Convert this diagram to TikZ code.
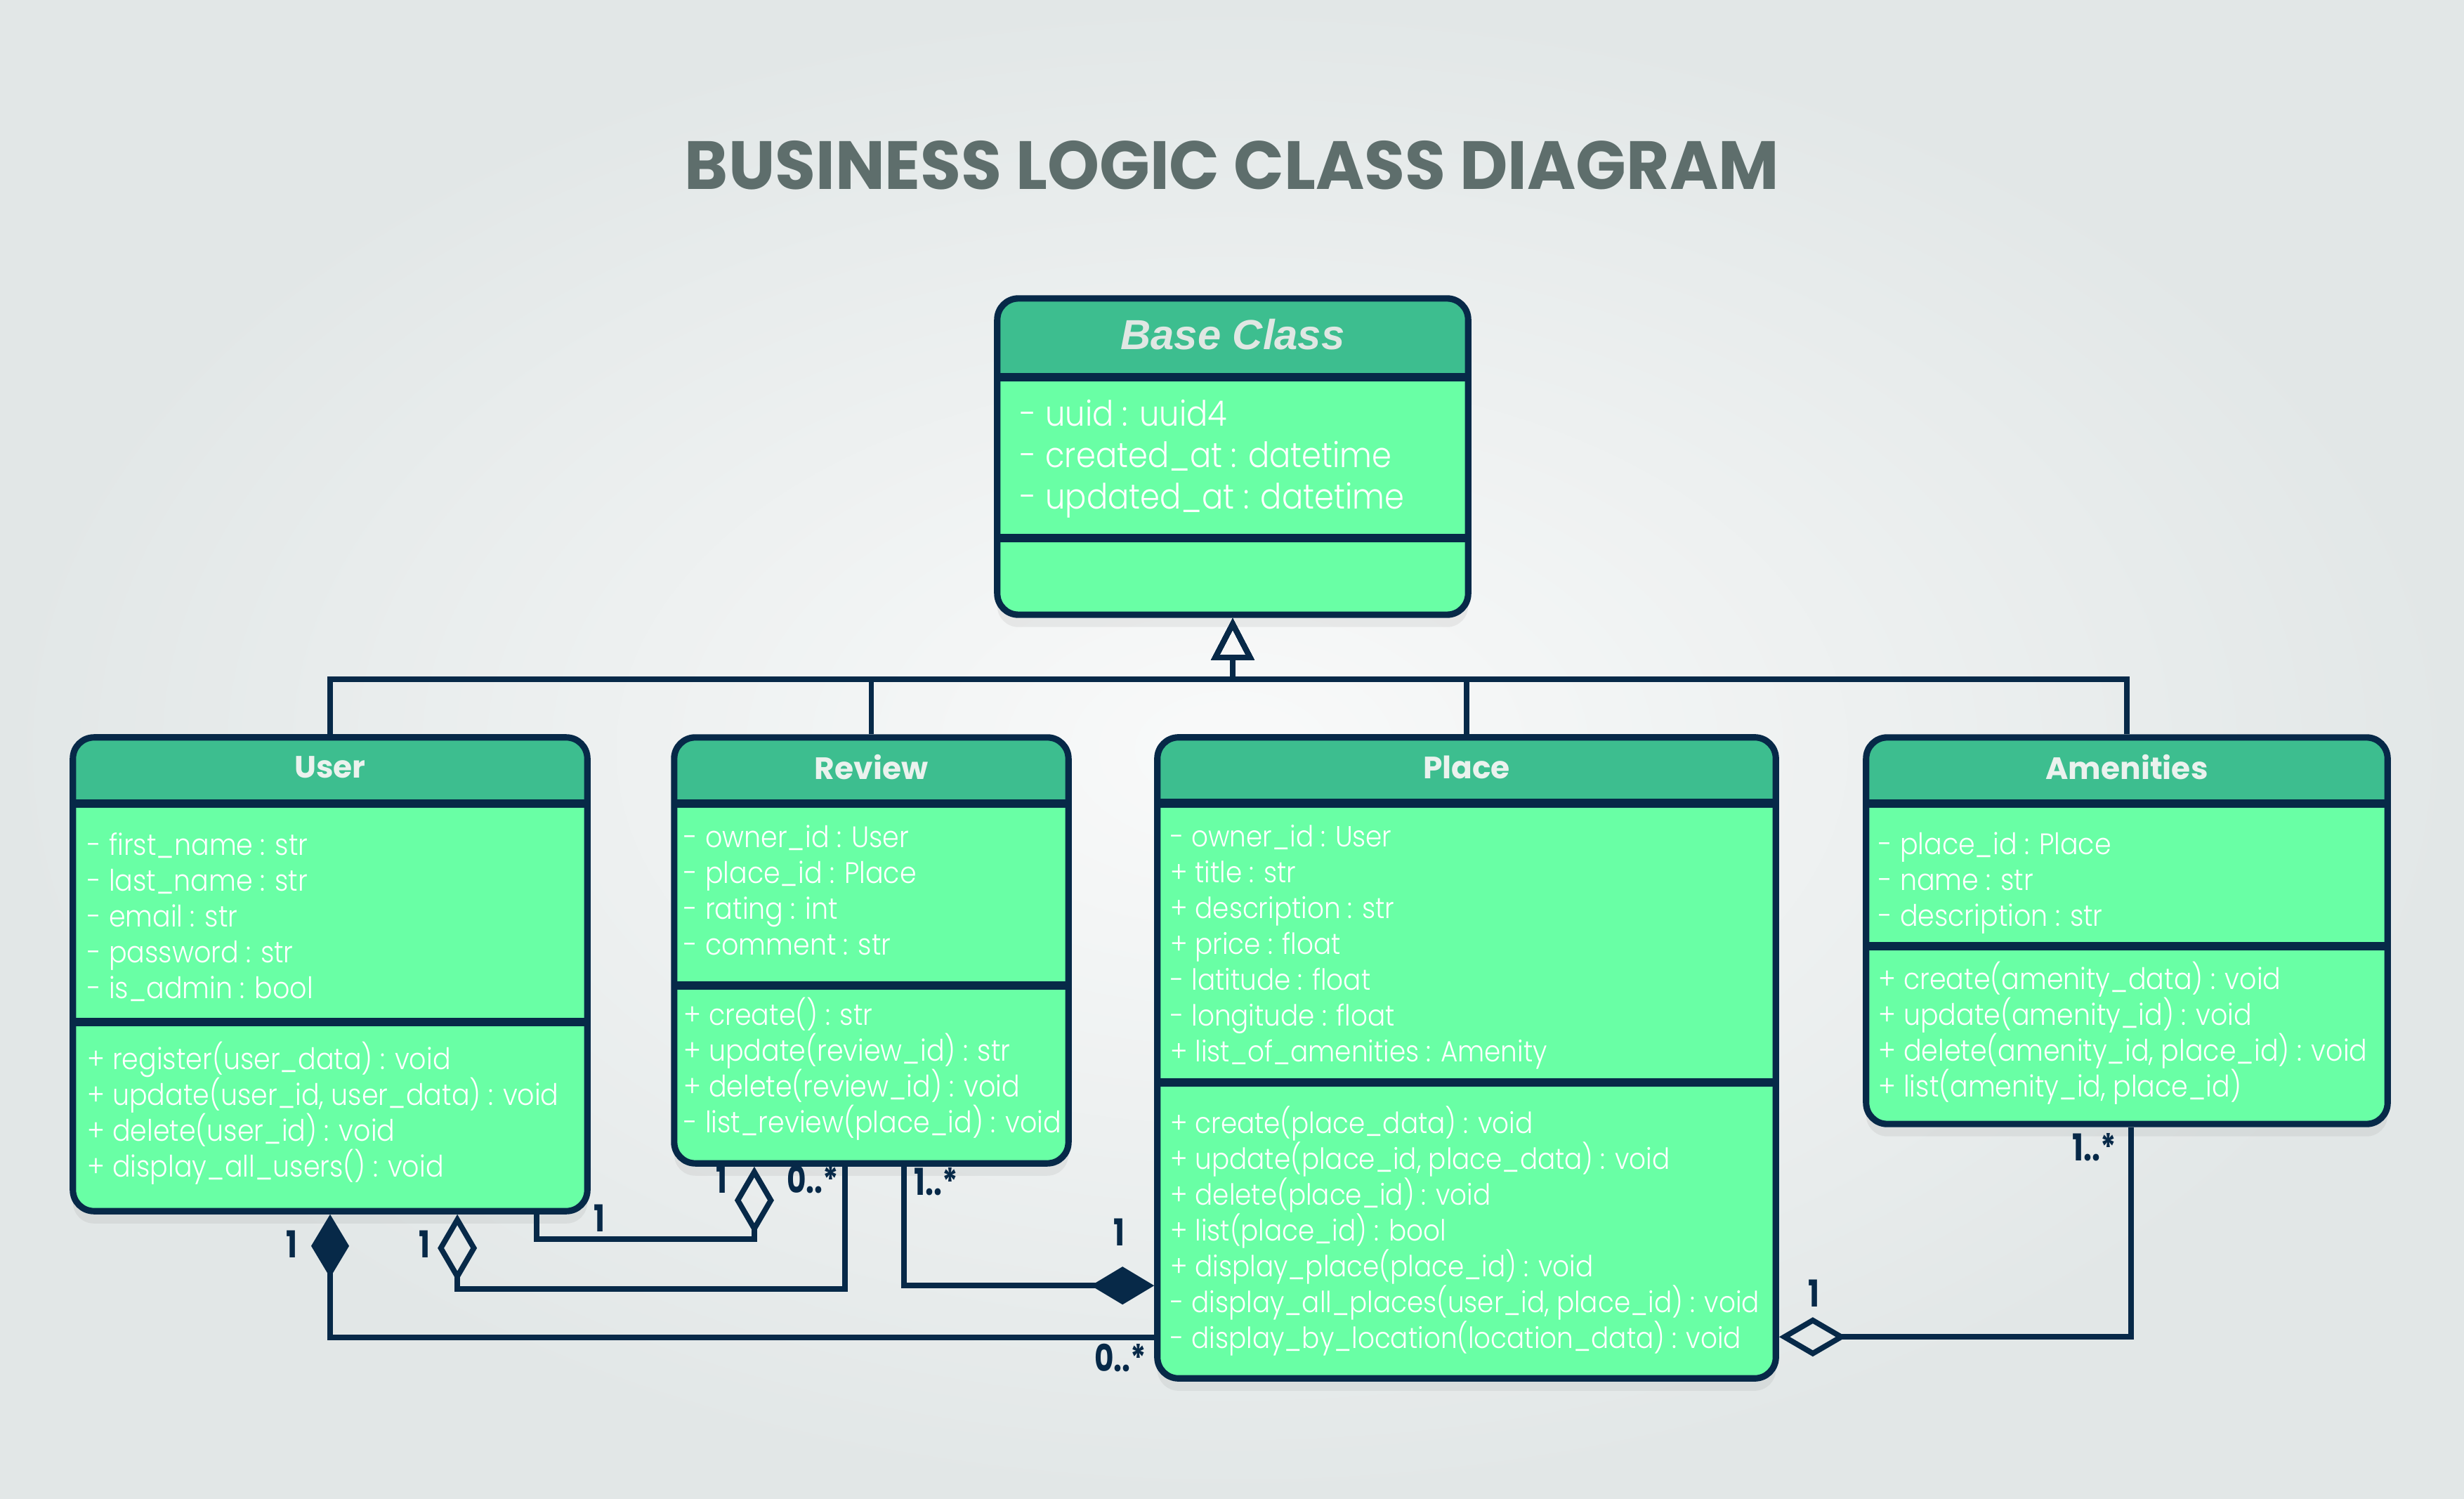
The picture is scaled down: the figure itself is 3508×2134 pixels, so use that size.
\documentclass[tikz,border=0pt]{standalone}
\usepackage{fontspec}
\setmainfont{Poppins}
\newfontfamily\memberfont{Poppins Light}[FakeStretch=0.9]
\newfontfamily\titlefont{Poppins}[FakeStretch=0.97]
\newfontfamily\multfont{Poppins}[FakeStretch=0.8]
\newfontfamily\basefont{Liberation Sans}
\usetikzlibrary{arrows.meta, positioning, shadows}
\definecolor{navyline}{RGB}{7,41,72}
\definecolor{headgreen}{RGB}{61,190,143}
\definecolor{bodygreen}{RGB}{105,255,165}
\definecolor{titlegray}{RGB}{94,110,108}
\definecolor{headtext}{RGB}{235,242,238}
\definecolor{bgouter}{RGB}{226,231,231}
\definecolor{bginner}{RGB}{249,250,250}
\lineskiplimit=-100pt

\begin{document}
\begin{tikzpicture}[x=0.01cm, y=-0.01cm,
    head depth/.store in=\headdepth, head depth=0.94cm,
    split depth/.store in=\splitdepth, split depth=2cm,
    divider/.style={draw=navyline, line width=3.6pt, sharp corners},
    umlclass/.style={rectangle, draw=navyline, fill=bodygreen, line width=2.6pt, rounded corners=0.3cm, inner sep=0pt,
      drop shadow={shadow xshift=0pt, shadow yshift=-5pt, opacity=0.12},
      path picture={
        \fill[headgreen, sharp corners] (path picture bounding box.north west) rectangle ([yshift=-\headdepth]path picture bounding box.north east);
        \draw[divider] ([yshift=-\headdepth]path picture bounding box.north west) -- ([yshift=-\headdepth]path picture bounding box.north east);
        \draw[divider] ([yshift=-\splitdepth]path picture bounding box.north west) -- ([yshift=-\splitdepth]path picture bounding box.north east);}},
    classname/.style={font=\bfseries\fontsize{12.5}{15}\selectfont, text=headtext, inner sep=0pt},
    members/.style={font=\memberfont\fontsize{12}{14.5}\selectfont, text=white, align=left, anchor=west, inner sep=0pt},
    mult/.style={font=\multfont\bfseries\fontsize{15}{18}\selectfont, text=navyline, inner sep=0pt},
    line/.style={draw=navyline, line width=2.2pt},
    inherit/.style={line, -{Triangle[open, length=0.6cm, width=0.6cm]}},
    aggregation/.style={line, {Diamond[open, length=0.96cm, width=0.56cm]}-},
    composition/.style={line, {Diamond[length=0.9cm, width=0.54cm]}-}]

    % background and title
    \shade[inner color=bginner, outer color=bgouter] (0,0) rectangle (3508,2134);
    \useasboundingbox (0,0) rectangle (3508,2134);
    \node[font=\titlefont\bfseries\fontsize{27.6}{32}\selectfont, text=titlegray] (title) at (1754,235) {BUSINESS LOGIC CLASS DIAGRAM};

    % classes
    \node[umlclass, head depth=1.12cm, split depth=3.41cm, minimum width=6.7cm, minimum height=4.5cm] (base) at (1755,650) {};
    \node[umlclass, split depth=4.05cm, minimum width=7.32cm, minimum height=6.74cm] (user) at (470,1387) {};
    \node[umlclass, split depth=3.53cm, minimum width=5.61cm, minimum height=6.06cm] (review) at (1240.5,1353) {};
    \node[umlclass, split depth=4.91cm, minimum width=8.8cm, minimum height=9.12cm] (place) at (2088,1506) {};
    \node[umlclass, split depth=2.97cm, minimum width=7.42cm, minimum height=5.5cm] (amenities) at (3028,1325) {};

    % Base Class
    \node[classname, font=\basefont\bfseries\itshape\fontsize{17}{20}\selectfont, text=headtext!90!gray] (baseName) at ([yshift=-0.56cm]base.north) {Base Class};
    \node[members, font=\memberfont\fontsize{14.15}{16.8}\selectfont] (baseAttr) at ([xshift=0.37cm, yshift=-2.33cm]base.north west) {- uuid : uuid4\\- created\_at : datetime\\- updated\_at : datetime};

    % User
    \node[classname] (userName) at ([yshift=-0.47cm]user.north) {User};
    \node[members] (userAttr) at ([xshift=0.25cm, yshift=-2.6cm]user.north west) {- first\_name : str\\- last\_name : str\\- email : str\\- password : str\\- is\_admin : bool};
    \node[members] (userMeth) at ([xshift=0.25cm, yshift=-5.39cm]user.north west) {+ register(user\_data) : void\\+ update(user\_id, user\_data) : void\\+ delete(user\_id) : void\\+ display\_all\_users() : void};

    % Review
    \node[classname] (reviewName) at ([yshift=-0.47cm]review.north) {Review};
    \node[members] (reviewAttr) at ([xshift=0.18cm, yshift=-2.22cm]review.north west) {- owner\_id : User\\- place\_id : Place\\- rating : int\\- comment : str};
    \node[members] (reviewMeth) at ([xshift=0.18cm, yshift=-4.76cm]review.north west) {+ create() : str\\+ update(review\_id) : str\\+ delete(review\_id) : void\\- list\_review(place\_id) : void};

    % Place
    \node[classname] (placeName) at ([yshift=-0.47cm]place.north) {Place};
    \node[members, font=\memberfont\fontsize{11.8}{14.5}\selectfont] (placeAttr) at ([xshift=0.23cm, yshift=-3.03cm]place.north west) {- owner\_id : User\\+ title : str\\+ description : str\\+ price : float\\- latitude : float\\- longitude : float\\+ list\_of\_amenities : Amenity};
    \node[members, font=\memberfont\fontsize{11.8}{14.5}\selectfont] (placeMeth) at ([xshift=0.23cm, yshift=-7.07cm]place.north west) {+ create(place\_data) : void\\+ update(place\_id, place\_data) : void\\+ delete(place\_id) : void\\+ list(place\_id) : bool\\+ display\_place(place\_id) : void\\- display\_all\_places(user\_id, place\_id) : void\\- display\_by\_location(location\_data) : void};

    % Amenities
    \node[classname] (amenitiesName) at ([yshift=-0.47cm]amenities.north) {Amenities};
    \node[members] (amenitiesAttr) at ([xshift=0.22cm, yshift=-2.12cm]amenities.north west) {- place\_id : Place\\- name : str\\- description : str};
    \node[members] (amenitiesMeth) at ([xshift=0.22cm, yshift=-4.25cm]amenities.north west) {+ create(amenity\_data) : void\\+ update(amenity\_id) : void\\+ delete(amenity\_id, place\_id) : void\\+ list(amenity\_id, place\_id)};

    % inheritance
    \draw[inherit] (user.north) |- ([yshift=-0.87cm]base.south) -- (base.south);
    \draw[inherit] (review.north) |- ([yshift=-0.87cm]base.south) -- (base.south);
    \draw[inherit] (place.north) |- ([yshift=-0.87cm]base.south) -- (base.south);
    \draw[inherit] (amenities.north) |- ([yshift=-0.87cm]base.south) -- (base.south);

    % associations
    \draw[composition] (user.south) |- ([yshift=-3.98cm]place.west);
    \draw[aggregation] ([xshift=1.81cm]user.south) -- ++(0,106) -| ([xshift=-0.375cm]review.south);
    \draw[aggregation] ([xshift=-1.665cm]review.south) -- ++(0,103) -| ([xshift=2.94cm]user.south);
    \draw[composition] ([yshift=-3.24cm]place.west) -| ([xshift=0.465cm]review.south);
    \draw[aggregation] ([yshift=-3.97cm]place.east) -| ([xshift=0.06cm]amenities.south);

    % multiplicities
    \node[mult] (m1) at (415,1771) {1};
    \node[mult] (m2) at (604,1771) {1};
    \node[mult] (m3) at (853,1734) {1};
    \node[mult] (m4) at (1027,1679) {1};
    \node[mult] (m5) at (1157,1679) {0..*};
    \node[mult] (m6) at (1333,1682) {1..*};
    \node[mult] (m7) at (1593,1754) {1};
    \node[mult] (m8) at (1595,1933) {0..*};
    \node[mult] (m9) at (2982,1633) {1..*};
    \node[mult] (m10) at (2582,1841) {1};
\end{tikzpicture}
\end{document}
